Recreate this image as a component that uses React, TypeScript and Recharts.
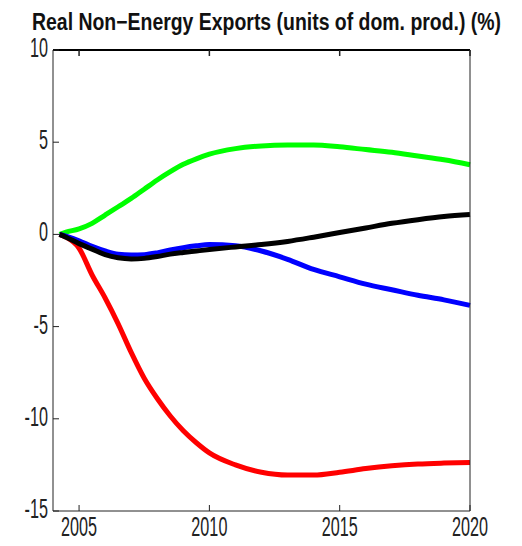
import React from 'react';
import { LineChart, Line, XAxis, YAxis, ReferenceLine } from 'recharts';

const TITLE = 'Real Non\u2212Energy Exports (units of dom. prod.) (%)';

const years = [
  2004.25, 2004.5, 2005, 2005.5, 2006, 2006.5, 2007, 2007.5, 2008, 2008.5, 2009, 2009.5,
  2010, 2011, 2012, 2013, 2014, 2015, 2016, 2017, 2018, 2019, 2020,
];

const greenPath = [
  0, 0.12, 0.3, 0.6, 1.05, 1.5, 1.95, 2.45, 2.95, 3.4, 3.8, 4.1,
  4.35, 4.65, 4.8, 4.85, 4.85, 4.75, 4.6, 4.45, 4.25, 4.05, 3.78,
];
const bluePath = [
  0, -0.1, -0.35, -0.65, -0.9, -1.08, -1.12, -1.1, -1.0, -0.85, -0.72, -0.62,
  -0.55, -0.62, -0.9, -1.35, -1.9, -2.3, -2.7, -3.0, -3.3, -3.55, -3.85,
];
const blackPath = [
  0, -0.15, -0.5, -0.8, -1.1, -1.27, -1.33, -1.3, -1.2, -1.07, -0.98, -0.9,
  -0.82, -0.68, -0.55, -0.38, -0.15, 0.1, 0.35, 0.6, 0.8, 0.97, 1.08,
];
const redPath = [
  0, -0.15, -0.75, -2.2, -3.45, -4.85, -6.4, -7.8, -8.9, -9.85, -10.65, -11.3,
  -11.85, -12.5, -12.9, -13.05, -13.05, -12.9, -12.7, -12.55, -12.45, -12.4, -12.37,
];

const xTicks = [2005, 2010, 2015, 2020];
const yTicks = [-15, -10, -5, 0, 5, 10];

const rows = years.map((year, i) => ({
  year,
  green: greenPath[i],
  blue: bluePath[i],
  black: blackPath[i],
  red: redPath[i],
}));

const FONT = 'Liberation Sans, Arial, sans-serif';
const AXIS = '#222';
const TICK_LEN = 6;
const LABEL_GAP = 5;

// tick marks point into the plot box; labels use narrow, tall digits
const LeftTick = ({ x, y, payload }: any) => (
  <g>
    <line x1={x + LABEL_GAP} x2={x + LABEL_GAP + TICK_LEN} y1={y} y2={y} stroke={AXIS} />
    <g transform={`translate(${x},${y}) scale(0.6,1)`}>
      <text x={0} y={0} dy={7} textAnchor="end" fontSize={27} fontFamily={FONT} fill="#222">
        {payload.value}
      </text>
    </g>
  </g>
);

const BottomTick = ({ x, y, payload }: any) => (
  <g>
    <line x1={x} x2={x} y1={y - LABEL_GAP} y2={y - LABEL_GAP - TICK_LEN} stroke={AXIS} />
    <g transform={`translate(${x},${y}) scale(0.6,1)`}>
      <text x={0} y={0} dy={20} textAnchor="middle" fontSize={27} fontFamily={FONT} fill="#222">
        {payload.value}
      </text>
    </g>
  </g>
);

const TopTick = ({ x, y }: any) => (
  <line x1={x} x2={x} y1={y} y2={y + TICK_LEN} stroke={AXIS} strokeWidth={1.5} />
);

const RightTick = ({ x, y }: any) => (
  <line x1={x} x2={x - TICK_LEN} y1={y} y2={y} stroke={AXIS} strokeWidth={1.5} />
);

export default function App() {
  return (
    <div style={{ position: 'absolute', left: 0, top: 0, width: 522, height: 546, background: '#fff' }}>
      <LineChart
        width={522}
        height={546}
        data={rows}
        margin={{ top: 40, right: 51, bottom: 5, left: 13 }}
      >
        <XAxis
          xAxisId="b"
          dataKey="year"
          type="number"
          domain={[2004, 2020]}
          ticks={xTicks}
          height={30}
          tickSize={0}
          tickMargin={LABEL_GAP}
          tickLine={false}
          tick={<BottomTick />}
          stroke={AXIS}
        />
        <XAxis
          xAxisId="t"
          orientation="top"
          dataKey="year"
          type="number"
          domain={[2004, 2020]}
          ticks={xTicks}
          height={10}
          tickSize={0}
          tickMargin={0}
          tickLine={false}
          tick={<TopTick />}
          stroke="#000"
          strokeWidth={2}
        />
        <YAxis
          yAxisId="l"
          type="number"
          domain={[-15, 10]}
          ticks={yTicks}
          width={40}
          tickSize={0}
          tickMargin={LABEL_GAP}
          tickLine={false}
          tick={<LeftTick />}
          stroke={AXIS}
        />
        <YAxis
          yAxisId="r"
          orientation="right"
          type="number"
          domain={[-15, 10]}
          ticks={yTicks}
          width={1}
          tickSize={0}
          tickMargin={0}
          tickLine={false}
          tick={<RightTick />}
          stroke={AXIS}
        />
        {/* top edge of the plot box */}
        <ReferenceLine xAxisId="b" yAxisId="l" y={10} stroke="#000" strokeWidth={2} ifOverflow="visible" />
        <Line xAxisId="b" yAxisId="l" type="monotone" dataKey="green" stroke="#00ff00" strokeWidth={5} dot={false} isAnimationActive={false} />
        <Line xAxisId="b" yAxisId="l" type="monotone" dataKey="red" stroke="#ff0000" strokeWidth={5} dot={false} isAnimationActive={false} />
        <Line xAxisId="b" yAxisId="l" type="monotone" dataKey="blue" stroke="#0000ff" strokeWidth={5} dot={false} isAnimationActive={false} />
        <Line xAxisId="b" yAxisId="l" type="monotone" dataKey="black" stroke="#000000" strokeWidth={5} dot={false} isAnimationActive={false} />
      </LineChart>
      <svg
        width={522}
        height={546}
        style={{ position: 'absolute', left: 0, top: 0, pointerEvents: 'none' }}
      >
        <g transform="translate(32,30) scale(0.81,1)">
          <text x={0} y={0} fontSize={24} fontWeight="bold" fontFamily={FONT} fill="#111">
            {TITLE}
          </text>
        </g>
      </svg>
    </div>
  );
}
